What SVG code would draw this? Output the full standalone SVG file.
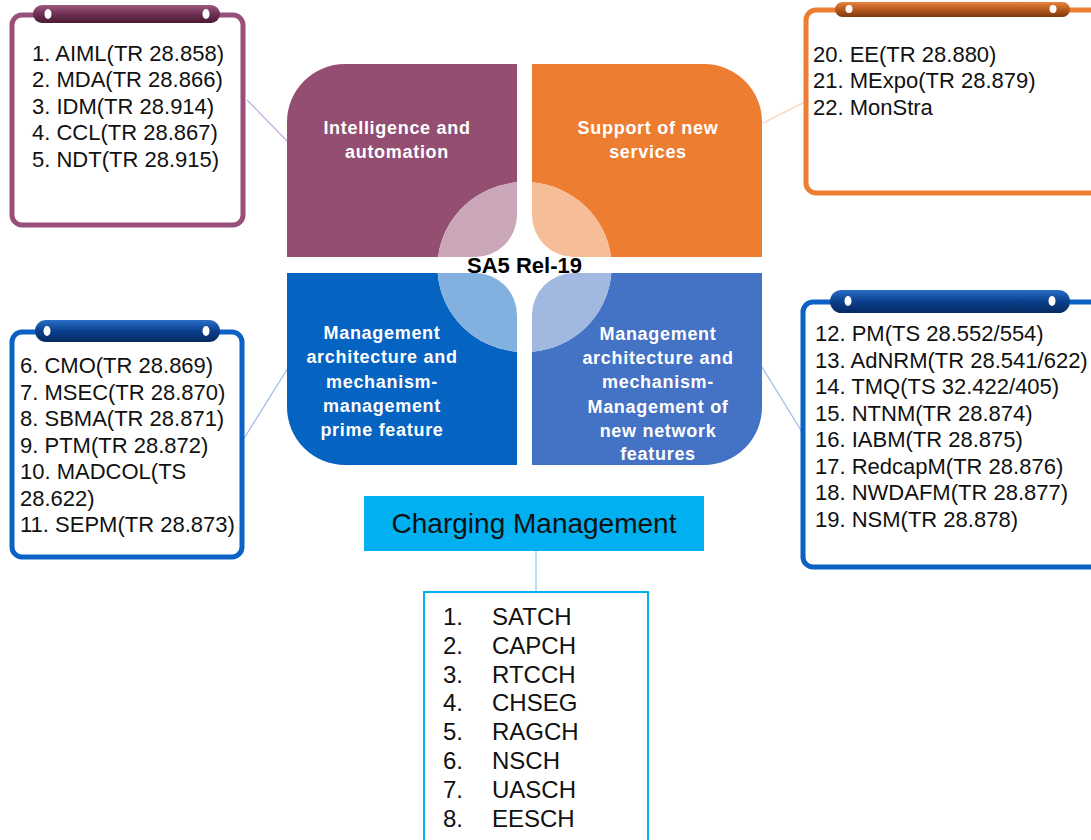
<svg xmlns="http://www.w3.org/2000/svg" width="1091" height="840" viewBox="0 0 1091 840">
<defs>
<linearGradient id="gP" x1="0" y1="0" x2="0" y2="1"><stop offset="0" stop-color="#9E5A7E"/><stop offset="0.5" stop-color="#6E3053"/><stop offset="1" stop-color="#4A1A35"/></linearGradient>
<linearGradient id="gO" x1="0" y1="0" x2="0" y2="1"><stop offset="0" stop-color="#E8843E"/><stop offset="0.5" stop-color="#B55A1E"/><stop offset="1" stop-color="#7E3A0E"/></linearGradient>
<linearGradient id="gB" x1="0" y1="0" x2="0" y2="1"><stop offset="0" stop-color="#2A6FC8"/><stop offset="0.5" stop-color="#0A3F8C"/><stop offset="1" stop-color="#062A60"/></linearGradient>
</defs>
<style>
.box{fill:#fff;stroke-width:5}
.lst{font-family:"Liberation Sans",Arial,sans-serif;font-size:22px;fill:#111}
.qt{font-family:"Liberation Sans",Arial,sans-serif;font-size:18px;font-weight:bold;fill:#fff;text-anchor:middle;letter-spacing:0.7px}
.dot{fill:#fff}
.wh{fill:#fff}
.con{fill:none;stroke-width:1.2}
</style>
<rect width="1091" height="840" fill="#fff"/>

<g id="connectors">
<line class="con" x1="247" y1="100" x2="288" y2="142" stroke="#C9A6E0"/>
<line class="con" x1="763" y1="123" x2="805" y2="102" stroke="#F8CBAD"/>
<line class="con" x1="243" y1="440" x2="288" y2="368" stroke="#9DB8E8"/>
<line class="con" x1="762" y1="367" x2="802" y2="432" stroke="#9DB8E8"/>
<line class="con" x1="536" y1="551" x2="536" y2="592" stroke="#7FCFEF" stroke-width="2"/>
</g>

<g id="quad-intelligence">
<path d="M287,257 L287,122 A58 58 0 0 1 345,64 L517,64 L517,257 Z" fill="#934E71"/>
<path class="wh" d="M517,257 L438.1,257 A87 85 0 0 1 517,182.3 Z"/>
<path d="M438.1,257 A87 85 0 0 1 517,182.3 L517,215 A42 42 0 0 1 475,257 Z" fill="#C9A6B8"/>
<text class="qt" x="397" y="133.5">Intelligence and</text>
<text class="qt" x="397" y="157.5">automation</text>
</g>

<g id="quad-services">
<path d="M532,64 L704,64 A58 58 0 0 1 762,122 L762,257 L532,257 Z" fill="#ED7D31"/>
<path class="wh" d="M532,257 L532,182.3 A87 85 0 0 1 610.9,257 Z"/>
<path d="M532,182.3 A87 85 0 0 1 610.9,257 L574,257 A42 42 0 0 1 532,215 Z" fill="#F6BE98"/>
<text class="qt" x="648" y="133.5">Support of new</text>
<text class="qt" x="648" y="157.5">services</text>
</g>

<g id="quad-prime">
<path d="M287,273 L517,273 L517,465 L345,465 A58 58 0 0 1 287,407 Z" fill="#0563C1"/>
<path class="wh" d="M517,273 L517,351.7 A87 85 0 0 1 437.7,273 Z"/>
<path d="M517,351.7 A87 85 0 0 1 437.7,273 L475,273 A42 42 0 0 1 517,315 Z" fill="#82B1E0"/>
<text class="qt" x="382" y="339">Management</text>
<text class="qt" x="382" y="363">architecture and</text>
<text class="qt" x="382" y="387.5">mechanism-</text>
<text class="qt" x="382" y="411.5">management</text>
<text class="qt" x="382" y="435.5">prime feature</text>
</g>

<g id="quad-network">
<path d="M532,273 L762,273 L762,407 A58 58 0 0 1 704,465 L532,465 Z" fill="#4472C4"/>
<path class="wh" d="M532,273 L611.3,273 A87 85 0 0 1 532,351.7 Z"/>
<path d="M611.3,273 A87 85 0 0 1 532,351.7 L532,315 A42 42 0 0 1 574,273 Z" fill="#A1B8E1"/>
<text class="qt" x="658" y="339.5">Management</text>
<text class="qt" x="658" y="363.5">architecture and</text>
<text class="qt" x="658" y="388">mechanism-</text>
<text class="qt" x="658" y="412.5">Management of</text>
<text class="qt" x="658" y="436.5">new network</text>
<text class="qt" x="658" y="460">features</text>
</g>

<g id="center">
<text x="524.5" y="273" font-family="Liberation Sans, Arial, sans-serif" font-size="22" font-weight="bold" fill="#000" text-anchor="middle">SA5 Rel-19</text>
</g>

<g id="box-intelligence">
<rect class="box" x="12" y="15" width="231" height="210" rx="10" stroke="#994F79"/>
<rect x="33" y="5" width="187" height="18" rx="9" fill="url(#gP)"/>
<ellipse class="dot" cx="48" cy="14" rx="3.5" ry="5"/>
<ellipse class="dot" cx="206" cy="14" rx="3.5" ry="5"/>
<text class="lst" x="32" y="61">1. AIML(TR 28.858)</text>
<text class="lst" x="32" y="87.4">2. MDA(TR 28.866)</text>
<text class="lst" x="32" y="113.8">3. IDM(TR 28.914)</text>
<text class="lst" x="32" y="140.2">4. CCL(TR 28.867)</text>
<text class="lst" x="32" y="166.6">5. NDT(TR 28.915)</text>
</g>

<g id="box-services">
<rect class="box" x="806" y="10" width="300" height="183" rx="10" stroke="#ED7D31"/>
<rect x="835" y="2" width="235" height="15" rx="7.5" fill="url(#gO)"/>
<ellipse class="dot" cx="849" cy="9" rx="3.5" ry="4"/>
<ellipse class="dot" cx="1053" cy="9" rx="3.5" ry="4"/>
<text class="lst" x="813" y="62">20. EE(TR 28.880)</text>
<text class="lst" x="813" y="88.4">21. MExpo(TR 28.879)</text>
<text class="lst" x="813" y="114.8">22. MonStra</text>
</g>

<g id="box-prime">
<rect class="box" x="12" y="332" width="230" height="225" rx="10" stroke="#0B62C4"/>
<rect x="35" y="320" width="185" height="22" rx="11" fill="url(#gB)"/>
<ellipse class="dot" cx="47" cy="331" rx="3.5" ry="5"/>
<ellipse class="dot" cx="206" cy="331" rx="3.5" ry="5"/>
<text class="lst" x="20" y="373">6. CMO(TR 28.869)</text>
<text class="lst" x="20" y="399.5">7. MSEC(TR 28.870)</text>
<text class="lst" x="20" y="426">8. SBMA(TR 28.871)</text>
<text class="lst" x="20" y="452.5">9. PTM(TR 28.872)</text>
<text class="lst" x="20" y="479">10. MADCOL(TS</text>
<text class="lst" x="20" y="505.5">28.622)</text>
<text class="lst" x="20" y="532">11. SEPM(TR 28.873)</text>
</g>

<g id="box-network">
<rect class="box" x="803" y="302" width="300" height="265" rx="10" stroke="#0B62C4"/>
<rect x="830" y="290" width="240" height="23" rx="11.5" fill="url(#gB)"/>
<ellipse class="dot" cx="848" cy="301" rx="3.5" ry="5"/>
<ellipse class="dot" cx="1052" cy="301" rx="3.5" ry="5"/>
<text class="lst" x="815" y="341">12. PM(TS 28.552/554)</text>
<text class="lst" x="815" y="367.5">13. AdNRM(TR 28.541/622)</text>
<text class="lst" x="815" y="394">14. TMQ(TS 32.422/405)</text>
<text class="lst" x="815" y="420.5">15. NTNM(TR 28.874)</text>
<text class="lst" x="815" y="447">16. IABM(TR 28.875)</text>
<text class="lst" x="815" y="473.5">17. RedcapM(TR 28.876)</text>
<text class="lst" x="815" y="500">18. NWDAFM(TR 28.877)</text>
<text class="lst" x="815" y="526.5">19. NSM(TR 28.878)</text>
</g>

<g id="charging">
<rect x="364" y="496" width="340" height="55" fill="#00B0F0"/>
<text x="534" y="533" font-family="Liberation Sans, Arial, sans-serif" font-size="28" fill="#111" text-anchor="middle">Charging Management</text>
</g>

<g id="charging-list" font-family="Liberation Sans, Arial, sans-serif" font-size="24" fill="#111">
<rect x="424" y="592" width="224" height="260" fill="#fff" stroke="#00B0F0" stroke-width="2"/>
<text x="443" y="625">1.</text><text x="492" y="625">SATCH</text>
<text x="443" y="653.8">2.</text><text x="492" y="653.8">CAPCH</text>
<text x="443" y="682.6">3.</text><text x="492" y="682.6">RTCCH</text>
<text x="443" y="711.4">4.</text><text x="492" y="711.4">CHSEG</text>
<text x="443" y="740.2">5.</text><text x="492" y="740.2">RAGCH</text>
<text x="443" y="769">6.</text><text x="492" y="769">NSCH</text>
<text x="443" y="797.8">7.</text><text x="492" y="797.8">UASCH</text>
<text x="443" y="826.6">8.</text><text x="492" y="826.6">EESCH</text>
</g>
</svg>
